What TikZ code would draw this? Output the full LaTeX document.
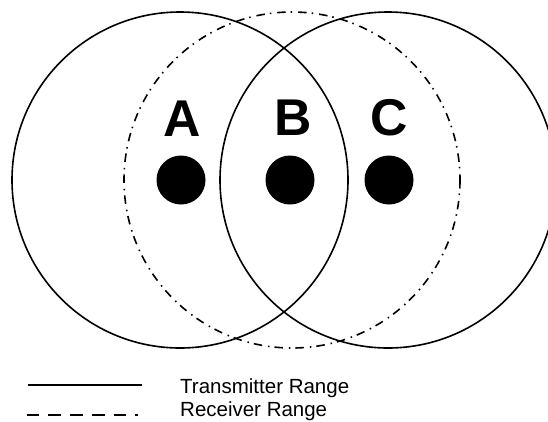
\documentclass[tikz,border=0pt]{standalone}
\usepackage{fontspec}
\setmainfont{Liberation Sans}
\begin{document}
\begin{tikzpicture}[x=1pt,y=-1pt,
  txrange/.style={line width=1.6pt},
  rxrange/.style={line width=1.6pt, dash pattern=on 8.5pt off 5pt on 1.5pt off 6pt},
  station/.style={circle, fill=black, minimum size=49pt, inner sep=0pt},
  lbl/.style={font=\fontsize{51.7}{52}\selectfont\bfseries, anchor=base, inner sep=0pt},
  legtext/.style={font=\fontsize{20.5}{21}\selectfont, anchor=base west, inner sep=0pt}]
\useasboundingbox (0,0) rectangle (548,421);
\clip (0,0) rectangle (548,421);
% ranges
\draw[txrange] (180,180) circle[radius=168];
\draw[txrange] (388,180) circle[radius=168];
\draw[rxrange] (292,180) circle[radius=168];
% stations
\node[station] (dA) at (181,180) {};
\node[station] (dB) at (290,180) {};
\node[station] (dC) at (389,180) {};
\node[lbl] (A) at (182,136) {A};
\node[lbl] (B) at (293,135) {B};
\node[lbl] (C) at (389,135.5) {C};
% legend
\coordinate (l1s) at (28,385.3);
\coordinate (l1e) at (141.7,385.3);
\coordinate (l2s) at (26.7,415);
\coordinate (l2e) at (137.8,415);
\draw[line width=1.8pt] (l1s) -- (l1e);
\draw[line width=2.2pt, dash pattern=on 12.7pt off 9pt] (l2s) -- (l2e);
\node[legtext] (t1) at (180,393.5) {Transmitter Range};
\node[legtext] (t2) at (180,416.8) {Receiver Range};
\end{tikzpicture}
\end{document}
